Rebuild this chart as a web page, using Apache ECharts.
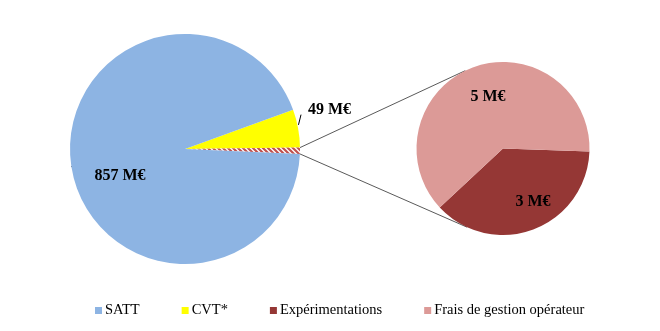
<!DOCTYPE html>
<html><head><meta charset="utf-8">
<script src="https://cdn.jsdelivr.net/npm/echarts@6/dist/echarts.min.js"></script>
<style>html,body{margin:0;padding:0;background:#fff}#c{width:660px;height:331px}</style>
</head><body><div id="c"></div>
<script>
// ---- data ----
var mainNames = ['SATT', 'CVT*', 'Autres'];
var mainValues = [857, 49, 8];
var subNames = ['Expérimentations', 'Frais de gestion opérateur'];
var subValues = [3, 5];
var legendNames = ['SATT', 'CVT*', 'Expérimentations', 'Frais de gestion opérateur'];
var labelTexts = ['857 M€', '49 M€', ''];
var subLabelTexts = ['3 M€', '5 M€'];

// ---- layout ----
var C1 = [185, 149], R1 = 115, START1 = 20;
var C2 = [503, 148.5], R2 = 86.5, START2 = -2;
var FONT = 'Liberation Serif, Times New Roman, serif';

var colors = {SATT: '#8DB4E3', 'CVT*': '#FFFF00', 'Expérimentations': '#953735', 'Frais de gestion opérateur': '#DC9A97'};

// hatch pattern
var pc = document.createElement('canvas');
pc.width = 5; pc.height = 5;
var g = pc.getContext('2d');
g.fillStyle = '#fff'; g.fillRect(0, 0, 5, 5);
g.strokeStyle = '#C0504D'; g.lineWidth = 2.2;
g.beginPath();
g.moveTo(-1, -1); g.lineTo(6, 6);
g.moveTo(-6, -1); g.lineTo(1, 6);
g.moveTo(4, -1); g.lineTo(11, 6);
g.stroke();

var total1 = mainValues.reduce(function (a, b) { return a + b; }, 0);
function deg(a) { return a * Math.PI / 180; }
function pt(c, r, a) { return [c[0] + r * Math.cos(deg(a)), c[1] - r * Math.sin(deg(a))]; }

// series order: CVT*, Autres, SATT (clockwise from START1)
var order = [1, 2, 0];
var acc = START1;
var angleByIdx = {};
order.forEach(function (i) { var s = acc; acc -= mainValues[i] / total1 * 360; angleByIdx[i] = [s, acc]; });

var pTop = pt(C1, R1, angleByIdx[2][0]);
var pBot = pt(C1, R1, angleByIdx[2][1]);
var mid = [(pTop[0] + pBot[0]) / 2, (pTop[1] + pBot[1]) / 2];
var dx = mid[0] - C2[0], dy = C2[1] - mid[1];
var d = Math.sqrt(dx * dx + dy * dy);
var phi = Math.atan2(dy, dx) * 180 / Math.PI;
var off = Math.acos(R2 / d) * 180 / Math.PI;
var tTop = pt(C2, R2, phi - off);
var tBot = pt(C2, R2, phi + off);

var mainData = order.map(function (i) {
  var name = mainNames[i];
  var item = {name: name, value: mainValues[i], label: {show: labelTexts[i] !== '', formatter: labelTexts[i]}};
  if (name === 'Autres') item.itemStyle = {color: {image: pc, repeat: 'repeat'}};
  else item.itemStyle = {color: colors[name]};
  return item;
});
var subData = subNames.map(function (n, i) {
  return {name: n, value: subValues[i], itemStyle: {color: colors[n]}, label: {formatter: subLabelTexts[i]}};
});

var chart = echarts.init(document.getElementById('c'), null, {renderer: 'canvas'});
chart.setOption({
  animation: false,
  backgroundColor: '#fff',
  legend: {
    data: legendNames,
    left: 95, top: 303, padding: 0,
    itemWidth: 7, itemHeight: 7, itemGap: 42,
    icon: 'rect',
    textStyle: {fontFamily: FONT, fontSize: 14.5, color: '#000', padding: [0, 0, 0, -2]}
  },
  graphic: [
    {type: 'line', shape: {x1: pTop[0], y1: pTop[1], x2: tTop[0], y2: tTop[1]}, style: {stroke: '#5a5a5a', lineWidth: 1}, z: 0},
    {type: 'line', shape: {x1: pBot[0], y1: pBot[1], x2: tBot[0], y2: tBot[1]}, style: {stroke: '#5a5a5a', lineWidth: 1}, z: 0}
  ],
  series: [
    {
      type: 'pie', center: C1, radius: [0, R1], startAngle: START1, clockwise: true,
      avoidLabelOverlap: false, silent: true,
      label: {position: 'outside', fontFamily: FONT, fontSize: 16, fontWeight: 'bold', color: '#000'},
      labelLine: {show: true, length: 6, length2: 0, lineStyle: {color: '#000', width: 1}},
      labelLayout: function (p) {
        if (p.dataIndex === 2) { // SATT
          return {x: 120, y: 176, align: 'center', verticalAlign: 'middle'};
        }
        if (p.dataIndex === 0) { // CVT
          var a0 = pt(C1, R1 + 1, 12), a1 = pt(C1, R1 + 6, 16.5);
          return {x: 308, y: 110, align: 'left', verticalAlign: 'middle', labelLinePoints: [a0, a1, a1]};
        }
        return {};
      },
      data: mainData
    },
    {
      type: 'pie', center: C2, radius: [0, R2], startAngle: START2, clockwise: true,
      silent: true,
      label: {position: 'inside', fontFamily: FONT, fontSize: 16, fontWeight: 'bold', color: '#000'},
      labelLine: {show: false},
      labelLayout: function (p) {
        if (p.dataIndex === 0) return {x: 533, y: 202, align: 'center', verticalAlign: 'middle'};
        return {x: 488, y: 97, align: 'center', verticalAlign: 'middle'};
      },
      data: subData
    }
  ]
});
</script></body></html>
